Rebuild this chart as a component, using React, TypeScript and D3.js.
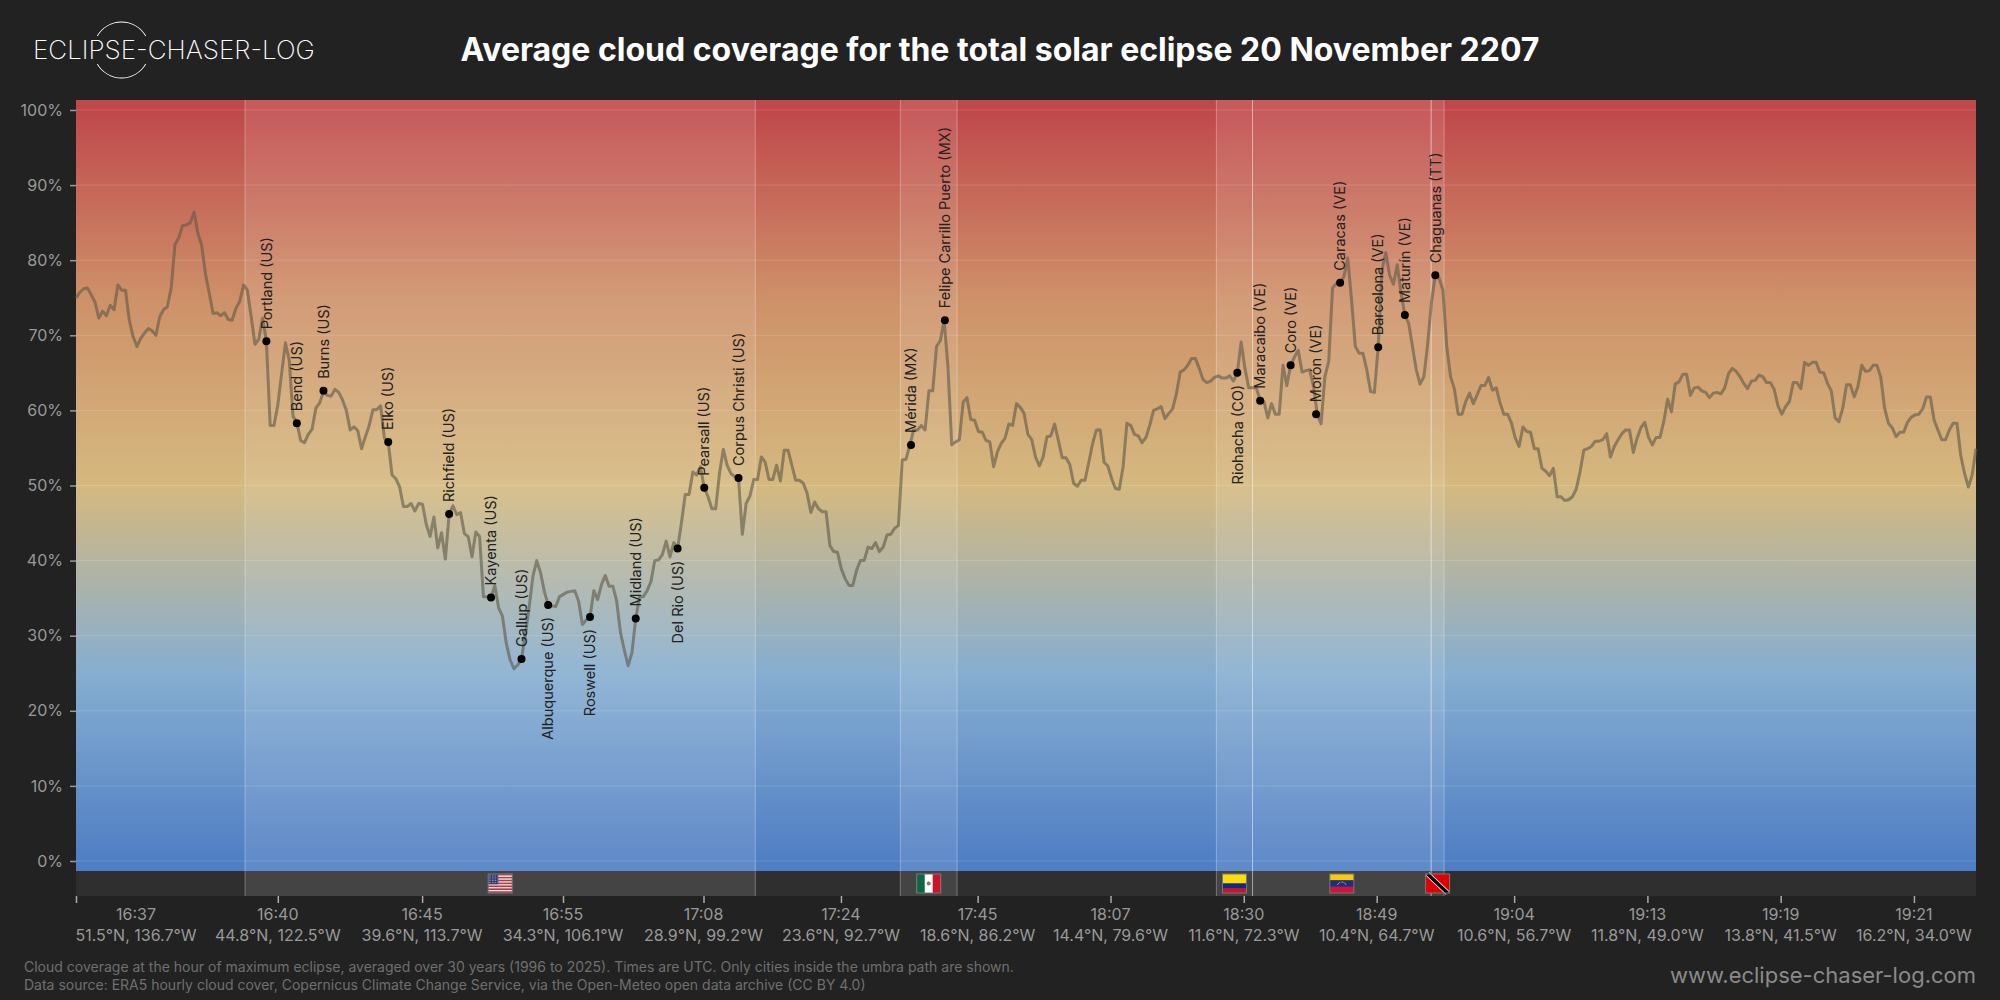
import React, { useEffect, useRef } from 'react';
import * as d3 from 'd3';

// cloud cover (%) sampled at equal steps along the eclipse track
const pacificCover = [75, 75.7, 76.2, 76.3, 75.4, 74.4, 72.3, 73.2, 72.6, 74, 73.4, 76.7, 76, 76, 72, 69.8, 68.5, 69.6, 70.3, 70.9, 70.6, 70, 72.5, 73.4, 73.8, 76.3, 82.1, 83, 84.6, 84.7, 85, 86.4, 83.6, 82, 78.2, 75.6, 72.9, 73, 72.6, 73, 72.1, 72, 73.6, 74.5, 76.7, 76];
const usaCover = [72.5, 68.8, 69.5, 72.3, 69.2, 58, 58, 60.7, 64.9, 69, 66.7, 59.2, 58.4, 56, 55.7, 56.8, 57.5, 60.3, 61, 62.5, 62, 61.9, 62.8, 62.4, 61.4, 60, 57.4, 57.8, 57.3, 54.9, 56.5, 58, 60.1, 60.1, 60.6, 56.3, 55.8, 51.4, 50.9, 49.8, 47.2, 47.2, 47.6, 46.6, 47.6, 47.5,
  44.8, 43.2, 45.8, 41.7, 43.7, 40.2, 46.2, 47.3, 46.1, 46.4, 43.6, 43.2, 40.5, 43.8, 43.2, 35.2, 35.2, 35.1, 36.7, 33.7, 32.6, 29, 26.8, 25.6, 26.1, 26.9, 30.1, 33.7, 37.9, 40, 38.4, 35.9, 34.1, 34, 33.9, 35.2, 35.5, 35.8, 35.9, 36, 34.6, 31.5, 32.1, 32.5, 36, 34.8, 36.8, 38, 36.6, 36.6, 34.6, 30.4, 28.1, 26, 27.7, 32.3, 35.2, 35.2, 36, 37.2, 40, 40.1, 40.8, 42.6, 40.5, 42.4, 41.6, 45, 48.8, 48.8, 51.8, 51.4, 52.5, 49.7, 48.5, 46.9, 46.9, 51.6, 54.8, 52.7, 51.6, 51.2, 50.9, 43.5, 47.6, 48.6];
const gulfCover = [50.8, 50.8, 53.8, 53.1, 50.8, 50.8, 52.7, 50.6, 54.7, 54.7, 52.7, 50.7, 50.7, 50.3, 49, 46.4, 47.8, 46.9, 46.5, 46.5, 42, 41.2, 41.1, 38.9, 37.6, 36.7, 36.7, 38.7, 40, 40, 41.8, 41.6, 42.4, 41.2, 41.8, 43.4, 43.5, 44.3, 44.7];
const mexicoCover = [53.4, 53.5, 55.4, 57.4, 57.4, 58, 57.4, 62.6, 62.6, 68.5, 69.3, 72, 65.8, 55.4, 55.8];
const caribbeanCover = [56.1, 61.1, 61.7, 58.8, 58.7, 57.2, 57.1, 56, 55.8, 52.5, 54.5, 55.6, 56.3, 58.2, 58, 60.9, 60.4, 59.6, 56.8, 56.1, 53.8, 52.6, 53.8, 56.5, 56.6, 58.2, 56, 53.7, 53.7, 52.8, 50.3, 49.9, 50.7, 50.7, 53.1, 55.6, 57.4, 57.4, 53.1, 52.6, 50.9, 49.6, 49.5, 52.5, 58.3, 58, 56.8, 56.6, 55.7, 56.4, 58, 60, 60.2, 60.5, 58.9, 59.6, 60.2, 62.2, 65.1, 65.4, 66, 66.9, 66.9, 65.6, 64.1, 63.7, 63.9, 64.4];
const colombiaCover = [64.6, 64.3, 64.3, 64.6, 63.9, 65, 69.1, 65.6, 63, 63];
const venezuelaCover = [63, 61.3, 61.2, 59, 60.9, 59.5, 59.5, 66, 63.3, 66, 67.1, 68, 65.1, 65.3, 65.4, 63.2, 59.5, 58.2, 64.5, 66.5, 76.3, 76.9, 77, 77.8, 80.3, 74.7, 68.5, 67.6, 67.6, 65.4, 62.5, 62.4, 68.5, 78.7, 81, 78, 76.8, 79.4, 75.6, 72.7, 71.6, 68.5, 65.4, 63.5, 64.5, 68.9, 74.5];
const trinidadCover = [78, 77.6, 76];
const atlanticCover = [68.5, 64.5, 62.9, 59.5, 59.5, 61.2, 62.3, 60.9, 62.1, 63.3, 63.3, 64.4, 62.7, 63, 61, 59.5, 59.5, 58.3, 56.3, 55.2, 57.8, 57.2, 57.1, 54.9, 54.9, 52.3, 51.9, 51.3, 52.3, 48.5, 48.5, 48, 48.1, 48.5, 49.5, 51.8, 54.7, 54.9, 55.2, 55.9, 55.9, 56.1, 56.9, 53.8, 55.2, 56.1, 56.9, 57.4, 57.4, 54.4, 56.3, 57.7, 58.4, 56.4, 55.4, 56.4, 56.4, 58.5, 61.5, 59.8, 63.5, 63.8, 64.8, 64.8, 62, 63, 63.1, 62.6, 62.4, 61.7, 62.3, 62.4, 62.2, 63, 64.9, 65.6, 65.2, 64.5, 63.6, 62.9, 63.9, 64, 64.7, 64.5, 63.7, 63.7, 62.8, 60.6, 59.5, 60.5, 61.2, 63.7, 63.7, 62.9, 66.4, 66, 66.4, 66.4, 65.1, 65, 63.6, 62.6, 59, 58.5, 60.3, 63.4, 63.4, 61.8, 63.2, 66, 65.2, 65.3, 66, 66, 64.4, 60.3, 58.3, 57.7, 56.5, 57.1, 57.1, 58.4, 59.1, 59.4, 59.5, 60.2, 61.8, 61.8, 58.7, 57.4, 56.1, 56.1, 57.4, 58.3, 58.3, 54, 51.6, 49.8, 51.4, 54.9];
const cloudCover = [...pacificCover, ...usaCover, ...gulfCover, ...mexicoCover, ...caribbeanCover, ...colombiaCover, ...venezuelaCover, ...trinidadCover, ...atlanticCover];

// cities on the track
const cityNames = ['Portland (US)', 'Bend (US)', 'Burns (US)', 'Elko (US)', 'Richfield (US)', 'Kayenta (US)', 'Gallup (US)', 'Albuquerque (US)', 'Roswell (US)', 'Midland (US)', 'Del Rio (US)', 'Pearsall (US)', 'Corpus Christi (US)', 'Mérida (MX)', 'Felipe Carrillo Puerto (MX)', 'Riohacha (CO)', 'Maracaibo (VE)', 'Coro (VE)', 'Morón (VE)', 'Caracas (VE)', 'Barcelona (VE)', 'Maturín (VE)', 'Chaguanas (TT)'];
const citySample = [50, 58, 65, 82, 98, 109, 117, 124, 135, 147, 158, 165, 174, 219.3, 228.2, 305, 311, 319, 325.7, 332, 342, 349, 357];
const cityCover = [69.2, 58.3, 62.6, 55.8, 46.2, 35.1, 26.9, 34.1, 32.5, 32.3, 41.6, 49.7, 51, 55.4, 72, 65, 61.3, 66, 59.5, 77, 68.4, 72.7, 78];
const cityBelow = [false, false, false, false, false, false, false, true, true, false, true, false, false, false, false, true, false, false, false, false, false, false, false];

// stretches of the track over land, in samples
const countryCodes = ['US', 'MX', 'CO', 'VE', 'TT'];
const countryFrom = [44.4, 216.5, 299.5, 309, 355.9];
const countryTo = [178.4, 231.4, 309, 355.9, 359.3];

// axis ticks
const yTicks = [0, 10, 20, 30, 40, 50, 60, 70, 80, 90, 100];
const xTickSamples = [0, 53, 90.9, 127.9, 164.8, 200.9, 236.8, 271.7, 306.7, 341.6, 377.7, 412.7, 447.7, 482.7];
const xTickTimes = ['16:37', '16:40', '16:45', '16:55', '17:08', '17:24', '17:45', '18:07', '18:30', '18:49', '19:04', '19:13', '19:19', '19:21'];
const xTickCoords = ['51.5°N, 136.7°W', '44.8°N, 122.5°W', '39.6°N, 113.7°W', '34.3°N, 106.1°W', '28.9°N, 99.2°W', '23.6°N, 92.7°W', '18.6°N, 86.2°W', '14.4°N, 79.6°W', '11.6°N, 72.3°W', '10.4°N, 64.7°W', '10.6°N, 56.7°W', '11.8°N, 49.0°W', '13.8°N, 41.5°W', '16.2°N, 34.0°W'];

// colour ramp of the background
const rampValues = [0, 25, 50, 75, 100];
const rampColors = ['#4f7ec4', '#86aed1', '#d5b97f', '#ce9068', '#c0484b'];

const FONT = 'Inter, "Noto Sans", sans-serif';

const drawFlag = (g: d3.Selection<SVGGElement, unknown, null, undefined>, code: string) => {
  const w = 24;
  const h = 19;
  const band = (y: number, bh: number, color: string) =>
    g.append('rect').attr('x', 0).attr('y', y).attr('width', w).attr('height', bh).attr('fill', color);
  if (code === 'US') {
    d3.range(13).forEach(i => band(i * h / 13, h / 13, i % 2 ? '#f5f5f5' : '#c8313e'));
    g.append('rect').attr('width', w * 0.42).attr('height', h * 7 / 13).attr('fill', '#2e2f6b');
    d3.range(5).forEach(r => d3.range(6).forEach(c => {
      g.append('circle').attr('cx', 1 + c * 1.6).attr('cy', 1.1 + r * 1.9).attr('r', 0.45).attr('fill', '#fff');
    }));
  }
  if (code === 'MX') {
    band(0, h, '#fff');
    g.append('rect').attr('width', w / 3).attr('height', h).attr('fill', '#0b6847');
    g.append('rect').attr('x', w * 2 / 3).attr('width', w / 3).attr('height', h).attr('fill', '#ce1126');
    g.append('circle').attr('cx', w / 2).attr('cy', h / 2).attr('r', 2).attr('fill', '#8c7a4f');
  }
  if (code === 'CO') {
    band(0, h / 2, '#fcdd09');
    band(h / 2, h / 4, '#0a2a8c');
    band(h * 3 / 4, h / 4, '#ce1126');
  }
  if (code === 'VE') {
    band(0, h / 3, '#fcc80a');
    band(h / 3, h / 3, '#1a2f84');
    band(h * 2 / 3, h / 3, '#cf1437');
    d3.range(8).forEach(i => {
      const a = Math.PI * (1.15 + i * 0.7 / 7);
      g.append('circle').attr('cx', w / 2 + 4.6 * Math.cos(a)).attr('cy', h * 0.66 + 4.6 * Math.sin(a)).attr('r', 0.45).attr('fill', '#fff');
    });
  }
  if (code === 'TT') {
    band(0, h, '#e10000');
    g.append('line').attr('x1', 2).attr('y1', 0).attr('x2', w - 2).attr('y2', h).attr('stroke', '#fff').attr('stroke-width', 5);
    g.append('line').attr('x1', 2).attr('y1', 0).attr('x2', w - 2).attr('y2', h).attr('stroke', '#000').attr('stroke-width', 3.4);
  }
  g.append('rect').attr('x', 0).attr('y', 0).attr('width', w).attr('height', h)
    .attr('fill', 'none').attr('stroke', '#777').attr('stroke-width', 1);
};

const App: React.FC = () => {
  const svgRef = useRef<SVGSVGElement>(null);

  useEffect(() => {
    if (!svgRef.current) return;
    const svg = d3.select(svgRef.current);
    svg.selectAll('*').remove();

    const width = 2000;
    const height = 1000;
    const plot = { left: 76, right: 1976, top: 100, bottom: 871, stripBottom: 896 };

    const x = d3.scaleLinear().domain([0, cloudCover.length - 1]).range([plot.left, plot.right]);
    const y = d3.scaleLinear().domain([0, 100]).range([861, 110]);

    svg.append('rect').attr('width', width).attr('height', height).attr('fill', '#222222');

    // background ramp
    const grad = svg.append('defs').append('linearGradient')
      .attr('id', 'ramp').attr('gradientUnits', 'userSpaceOnUse')
      .attr('x1', 0).attr('x2', 0).attr('y1', y(0)).attr('y2', y(100));
    rampValues.forEach((v, i) => {
      grad.append('stop').attr('offset', v / 100).attr('stop-color', rampColors[i]);
    });
    svg.append('rect').attr('x', plot.left).attr('y', plot.top)
      .attr('width', plot.right - plot.left).attr('height', plot.bottom - plot.top)
      .attr('fill', 'url(#ramp)');
    svg.append('rect').attr('x', plot.left).attr('y', plot.bottom)
      .attr('width', plot.right - plot.left).attr('height', plot.stripBottom - plot.bottom)
      .attr('fill', '#2f2f2f');

    // grid
    svg.append('g').selectAll('line').data(yTicks).enter().append('line')
      .attr('x1', plot.left).attr('x2', plot.right)
      .attr('y1', d => y(d)).attr('y2', d => y(d))
      .attr('stroke', '#fff').attr('stroke-opacity', 0.14).attr('stroke-width', 1);

    // country bands
    const bands = svg.append('g');
    countryCodes.forEach((code, i) => {
      const x0 = x(countryFrom[i]);
      const x1 = x(countryTo[i]);
      bands.append('rect').attr('x', x0).attr('y', plot.top)
        .attr('width', x1 - x0).attr('height', plot.stripBottom - plot.top)
        .attr('fill', '#fff').attr('fill-opacity', 0.1);
      [x0, x1].forEach(px => {
        bands.append('line').attr('x1', px).attr('x2', px)
          .attr('y1', plot.top).attr('y2', plot.stripBottom)
          .attr('stroke', '#fff').attr('stroke-opacity', 0.3).attr('stroke-width', 1);
      });
    });

    // line
    const line = d3.line<number>().x((_, i) => x(i)).y(d => y(d));
    svg.append('path').datum(cloudCover).attr('d', line)
      .attr('fill', 'none').attr('stroke', '#5f5a48').attr('stroke-opacity', 0.62)
      .attr('stroke-width', 3).attr('stroke-linejoin', 'round');

    // cities
    const cities = svg.append('g');
    cityNames.forEach((name, i) => {
      const cx = x(citySample[i]);
      const cy = y(cityCover[i]);
      cities.append('circle').attr('cx', cx).attr('cy', cy).attr('r', 4).attr('fill', '#000');
      const ly = cityBelow[i] ? cy + 12 : cy - 12;
      cities.append('text')
        .attr('transform', `translate(${cx},${ly}) rotate(-90)`)
        .attr('text-anchor', cityBelow[i] ? 'end' : 'start')
        .attr('dy', '0.36em')
        .attr('font-family', FONT).attr('font-size', 14.5).attr('fill', '#222')
        .text(name);
    });

    // flags
    countryCodes.forEach((code, i) => {
      const cx = x((countryFrom[i] + countryTo[i]) / 2);
      const g = svg.append('g').attr('transform', `translate(${cx - 12},${874})`);
      drawFlag(g as any, code);
    });

    // y axis
    const yAxis = d3.axisLeft(y).tickValues(yTicks).tickFormat(d => `${d}%`).tickSize(6).tickPadding(7);
    const yG = svg.append('g').attr('transform', `translate(${plot.left},0)`).call(yAxis);
    yG.select('.domain').remove();
    yG.selectAll('line').attr('stroke', '#999').attr('stroke-width', 1.5);
    yG.selectAll('text').attr('fill', '#999').attr('font-family', FONT).attr('font-size', 16);

    // x axis
    const xAxis = d3.axisBottom(x).tickValues(xTickSamples).tickFormat(() => '').tickSize(7);
    const xG = svg.append('g').attr('transform', `translate(0,${plot.stripBottom})`).call(xAxis);
    xG.select('.domain').remove();
    xG.selectAll('line').attr('stroke', '#aaa').attr('stroke-width', 1.5);
    const xLabels = svg.append('g').attr('font-family', FONT).attr('font-size', 16).attr('fill', '#999').attr('text-anchor', 'middle');
    xTickSamples.forEach((s, i) => {
      const lx = i === 0 ? x(s) + 60 : x(s);
      xLabels.append('text').attr('x', lx).attr('y', 920).text(xTickTimes[i]);
      xLabels.append('text').attr('x', lx).attr('y', 941).text(xTickCoords[i]);
    });

    // header
    svg.append('text').attr('x', 1000).attr('y', 61).attr('text-anchor', 'middle')
      .attr('font-family', FONT).attr('font-size', 32).attr('font-weight', 700).attr('fill', '#fff')
      .text('Average cloud coverage for the total solar eclipse 20 November 2207');

    // logo
    const logo = svg.append('g');
    const arc = d3.arc<any>().innerRadius(27.6).outerRadius(28.4);
    logo.append('path').attr('transform', 'translate(121.5,50)').attr('fill', '#fff')
      .attr('d', arc({ startAngle: -Math.PI / 3, endAngle: Math.PI / 3 }));
    logo.append('path').attr('transform', 'translate(121.5,50)').attr('fill', '#fff')
      .attr('d', arc({ startAngle: Math.PI * 2 / 3, endAngle: Math.PI * 4 / 3 }));
    logo.append('text').attr('x', 33).attr('y', 59)
      .attr('font-family', FONT).attr('font-size', 26).attr('font-weight', 200).attr('fill', '#fff')
      .text('ECLIPSE-CHASER-LOG');

    // footer
    const foot = svg.append('g').attr('font-family', FONT).attr('font-size', 14).attr('fill', '#6f6f6f');
    foot.append('text').attr('x', 24).attr('y', 972)
      .text('Cloud coverage at the hour of maximum eclipse, averaged over 30 years (1996 to 2025). Times are UTC. Only cities inside the umbra path are shown.');
    foot.append('text').attr('x', 24).attr('y', 990)
      .text('Data source: ERA5 hourly cloud cover, Copernicus Climate Change Service, via the Open-Meteo open data archive (CC BY 4.0)');
    svg.append('text').attr('x', 1976).attr('y', 983).attr('text-anchor', 'end')
      .attr('font-family', FONT).attr('font-size', 22).attr('fill', '#8a8a8a')
      .text('www.eclipse-chaser-log.com');
  }, []);

  return <svg ref={svgRef} width={2000} height={1000} style={{ position: 'absolute', left: 0, top: 0 }} />;
};

export default App;
